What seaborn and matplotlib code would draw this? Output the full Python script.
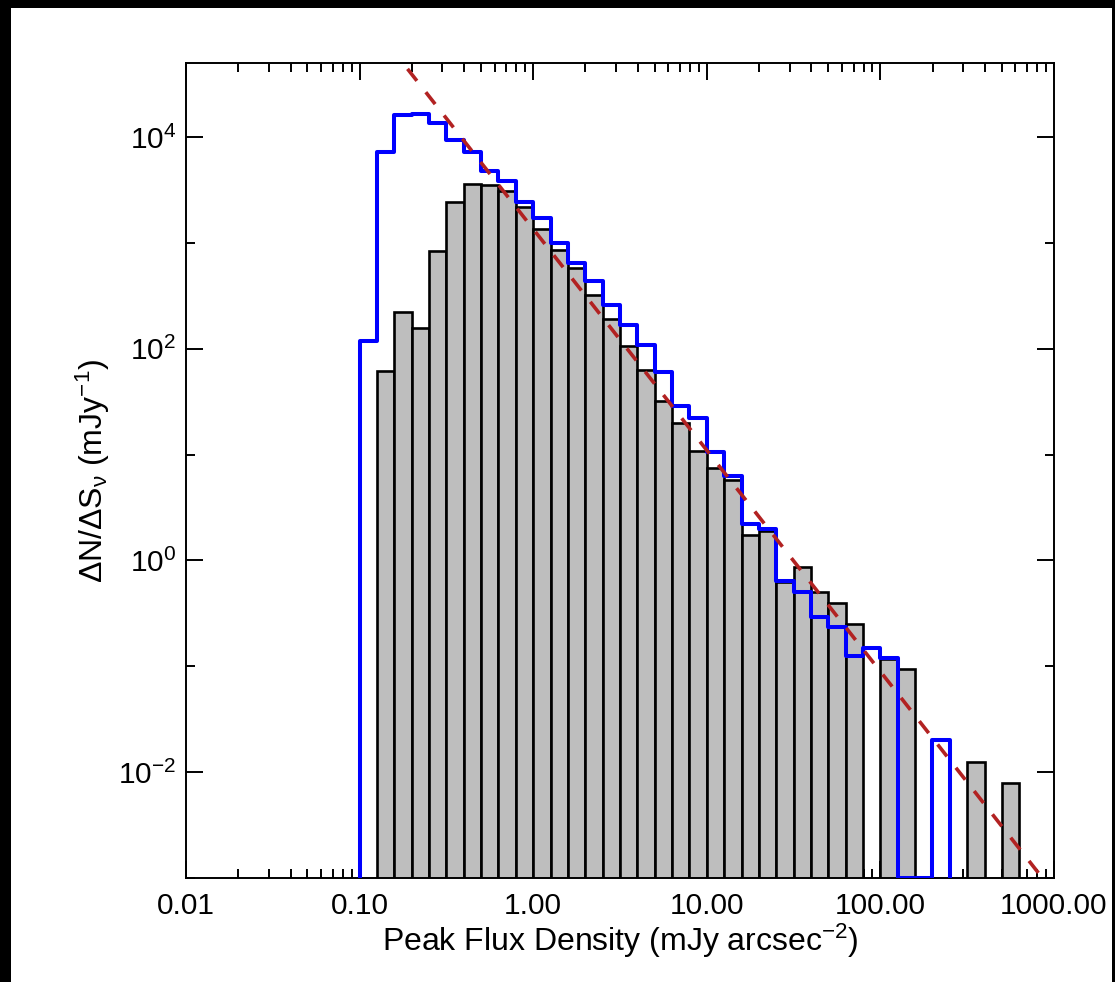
import numpy as np
import pandas as pd
import matplotlib
matplotlib.use("Agg")
import matplotlib.pyplot as plt
from matplotlib.patches import Rectangle
from matplotlib.ticker import FixedLocator, NullFormatter, FixedFormatter
import seaborn as sns

# ---------------- data ----------------
# log10 of the lower bin edge, bin width 0.1 dex
grey_bin_start = [-0.9, -0.8, -0.7, -0.6, -0.5, -0.4, -0.3, -0.2, -0.1, 0.0,
                  0.1, 0.2, 0.3, 0.4, 0.5, 0.6, 0.7, 0.8, 0.9, 1.0,
                  1.1, 1.2, 1.3, 1.4, 1.5, 1.6, 1.7, 1.8, 1.9, 2.0,
                  2.1, 2.2, 2.3, 2.4, 2.5, 2.6, 2.7]
grey_values = [62, 222, 157, 834, 2450, 3575, 3525, 3095, 2170, 1345,
               859, 577, 323, 190, 106, 62.4, 31.9, 19.9, 10.9, 7.4,
               5.8, 1.73, 1.89, 0.62, 0.87, 0.50, 0.40, 0.249, 0.0, 0.118,
               0.094, 0.0, 0.0, 0.0, 0.0126, 0.0, 0.0079]

blue_bin_start = [-1.0, -0.9, -0.8, -0.7, -0.6, -0.5, -0.4, -0.3, -0.2, -0.1,
                  0.0, 0.1, 0.2, 0.3, 0.4, 0.5, 0.6, 0.7, 0.8, 0.9,
                  1.0, 1.1, 1.2, 1.3, 1.4, 1.5, 1.6, 1.7, 1.8, 1.9,
                  2.0, 2.1, 2.2, 2.3]
blue_values = [117, 7260, 16100, 16600, 13500, 9370, 7260, 4780, 3845, 2454,
               1733, 1007, 652, 432, 260, 168, 108, 60.3, 28.6, 22.2,
               10.6, 6.25, 2.23, 1.99, 0.64, 0.50, 0.294, 0.235, 0.125, 0.150,
               0.121, 0.0, 0.0, 0.020]

bin_width_dex = 0.1
powerlaw_amp = 1350.0      # value at 1 mJy arcsec^-2
powerlaw_index = -2.09

x_ticks = [0.01, 0.1, 1.0, 10.0, 100.0, 1000.0]
x_ticklabels = ["0.01", "0.10", "1.00", "10.00", "100.00", "1000.00"]
y_ticks = [1e-2, 1e0, 1e2, 1e4]
y_ticklabels = [r"$10^{-2}$", r"$10^{0}$", r"$10^{2}$", r"$10^{4}$"]
y_minor = [1e-3, 1e-1, 1e1, 1e3]
xlim = (0.01, 1000.0)
ylim = (1e-3, 5e4)

# ---------------- style ----------------
sns.set_style("ticks")
plt.rcParams["font.family"] = ["Liberation Sans", "DejaVu Sans"]
plt.rcParams["mathtext.fontset"] = "custom"
plt.rcParams["mathtext.rm"] = "Liberation Sans"
plt.rcParams["mathtext.it"] = "Liberation Sans:italic"
plt.rcParams["mathtext.bf"] = "Liberation Sans:bold"
plt.rcParams["axes.unicode_minus"] = True
plt.rcParams["text.color"] = "black"
plt.rcParams["axes.labelcolor"] = "black"

W, H = 1115, 982
fig = plt.figure(figsize=(W / 100, H / 100), dpi=100)
fig.patch.set_facecolor("black")
fig.add_artist(Rectangle((11 / W, 0), (1112 - 11) / W, (H - 8) / H,
                         transform=fig.transFigure, facecolor="white",
                         edgecolor="none", zorder=-10))

ax = fig.add_axes([186 / W, 1 - 878 / H, (1054 - 186) / W, (878 - 63) / H])
ax.set_facecolor("white")
ax.set_xscale("log")
ax.set_yscale("log")

# grey histogram
grey_edges = [round(v, 3) for v in list(grey_bin_start) + [grey_bin_start[-1] + bin_width_dex]]
grey_df = pd.DataFrame({
    "flux": 10 ** (np.array(grey_bin_start) + bin_width_dex / 2),
    "w": grey_values,
})
sns.histplot(data=grey_df, x="flux", weights="w", bins=grey_edges,
             element="bars", fill=True, color="#bebebe", alpha=1.0,
             edgecolor="black", linewidth=1.9, ax=ax, zorder=2)

# blue outline histogram
floor = ylim[0]
blue_draw = [v if v > 0 else floor for v in blue_values]
starts = [blue_bin_start[0] - bin_width_dex] + list(blue_bin_start) + [blue_bin_start[-1] + bin_width_dex]
vals = [1e-6] + blue_draw + [1e-6]
blue_edges = [round(v, 3) for v in starts + [starts[-1] + bin_width_dex]]
blue_df = pd.DataFrame({
    "flux": 10 ** (np.array(starts) + bin_width_dex / 2),
    "w": vals,
})
sns.histplot(data=blue_df, x="flux", weights="w", bins=blue_edges,
             element="step", fill=False, color="#0000ff",
             linewidth=2.9, ax=ax, zorder=3)

# power-law model
xm = np.logspace(-1.5, 3.0, 200)
model_df = pd.DataFrame({"x": xm, "y": powerlaw_amp * xm ** powerlaw_index})
sns.lineplot(data=model_df, x="x", y="y", color="#b22222", linewidth=2.6,
             linestyle=(0, (4.2, 4.0)), ax=ax, zorder=4)

ax.set_xlim(*xlim)
ax.set_ylim(*ylim)

# ticks
ax.xaxis.set_major_locator(FixedLocator(x_ticks))
ax.xaxis.set_major_formatter(FixedFormatter(x_ticklabels))
minor_x = [m * 10.0 ** e for e in range(-2, 3) for m in range(2, 10)]
ax.xaxis.set_minor_locator(FixedLocator(minor_x))
ax.xaxis.set_minor_formatter(NullFormatter())
ax.yaxis.set_major_locator(FixedLocator(y_ticks))
ax.yaxis.set_major_formatter(FixedFormatter(y_ticklabels))
ax.yaxis.set_minor_locator(FixedLocator(y_minor))
ax.yaxis.set_minor_formatter(NullFormatter())

ax.tick_params(which="both", direction="in", top=True, right=True,
               width=1.4, colors="black", labelcolor="black", labelsize=21.5)
ax.tick_params(which="major", length=12.2)
ax.tick_params(which="minor", length=6.2)
ax.tick_params(axis="x", which="major", pad=10)
ax.tick_params(axis="y", which="major", pad=7)
for s in ax.spines.values():
    s.set_linewidth(1.4)
    s.set_color("black")
    s.set_visible(True)

ax.set_xlabel("Peak Flux Density (mJy arcsec$^{-2}$)", fontsize=23,
              labelpad=1, color="black")
ax.set_ylabel("ΔN/ΔS$_{\\mathrm{ν}}$ (mJy$^{-1}$)", fontsize=23,
              labelpad=4, color="black")

fig.savefig("out.png", dpi=100, facecolor=fig.get_facecolor())
